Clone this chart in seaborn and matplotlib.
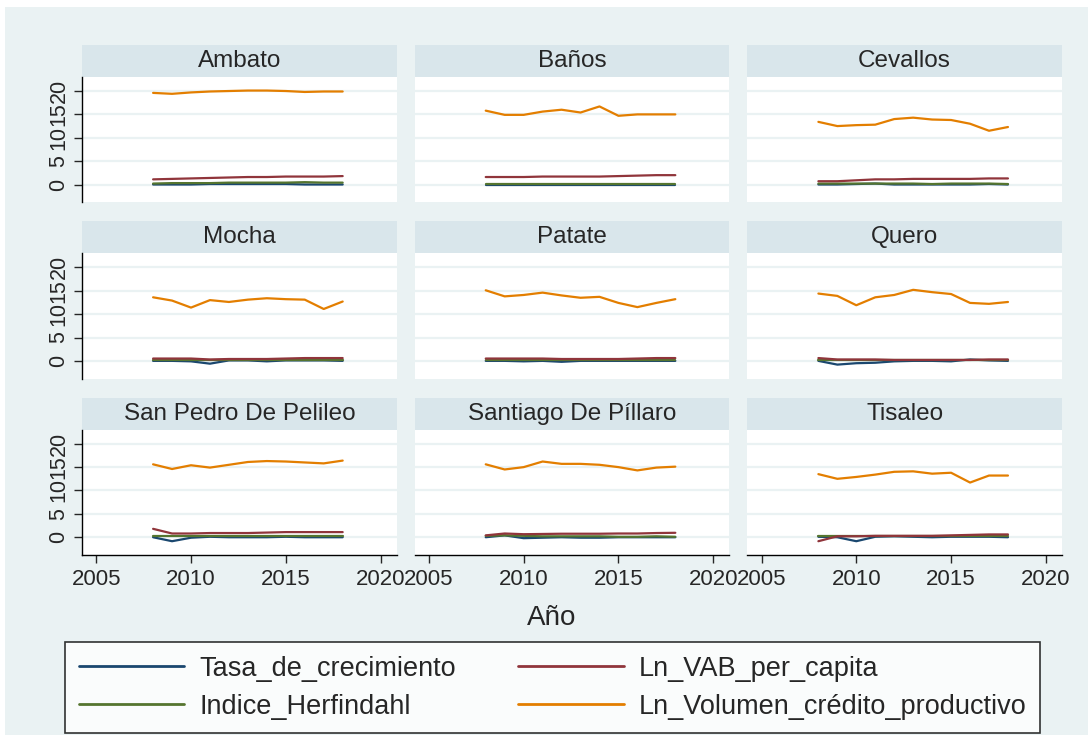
import pandas as pd
import seaborn as sns
import matplotlib.pyplot as plt
from matplotlib.patches import Rectangle
from matplotlib.lines import Line2D

# data
years = list(range(2008, 2019))
cantons = ['Ambato', 'Baños', 'Cevallos', 'Mocha', 'Patate', 'Quero',
           'San Pedro De Pelileo', 'Santiago De Píllaro', 'Tisaleo']
variables = ['Tasa_de_crecimiento', 'Indice_Herfindahl',
             'Ln_VAB_per_capita', 'Ln_Volumen_crédito_productivo']

tasa = {
    'Ambato':               [0.0, 0.0, 0.0, 0.1, 0.1, 0.1, 0.1, 0.1, 0.0, 0.0, 0.0],
    'Baños':                [0.0, 0.0, 0.0, 0.0, 0.0, 0.0, 0.0, 0.0, 0.0, 0.0, 0.0],
    'Cevallos':             [0.0, 0.0, 0.1, 0.2, 0.0, 0.0, 0.0, 0.0, 0.0, 0.1, 0.0],
    'Mocha':                [0.0, 0.0, -0.1, -0.6, 0.1, 0.1, -0.1, 0.1, 0.1, 0.1, 0.0],
    'Patate':               [0.0, 0.0, -0.1, 0.0, -0.2, 0.0, 0.0, 0.0, 0.0, 0.0, 0.0],
    'Quero':                [0.0, -0.8, -0.5, -0.4, -0.1, 0.0, 0.0, -0.1, 0.3, 0.1, 0.0],
    'San Pedro De Pelileo': [0.0, -0.85, -0.1, 0.1, 0.0, 0.0, 0.0, 0.1, 0.0, 0.0, 0.0],
    'Santiago De Píllaro':  [0.0, 0.4, -0.2, -0.1, 0.0, -0.1, -0.1, 0.0, 0.0, 0.0, 0.0],
    'Tisaleo':              [0.1, 0.0, -0.85, 0.1, 0.2, 0.1, 0.0, 0.1, 0.1, 0.1, 0.0],
}
herfindahl = {
    'Ambato':               [0.2, 0.3, 0.3, 0.3, 0.4, 0.4, 0.4, 0.4, 0.5, 0.4, 0.4],
    'Baños':                [0.2, 0.2, 0.2, 0.2, 0.2, 0.2, 0.2, 0.2, 0.2, 0.2, 0.2],
    'Cevallos':             [0.2, 0.2, 0.2, 0.2, 0.2, 0.2, 0.1, 0.2, 0.2, 0.2, 0.1],
    'Mocha':                [0.2, 0.2, 0.2, 0.2, 0.2, 0.2, 0.2, 0.2, 0.2, 0.2, 0.2],
    'Patate':               [0.2, 0.2, 0.2, 0.2, 0.2, 0.2, 0.2, 0.2, 0.2, 0.2, 0.2],
    'Quero':                [0.2, 0.2, 0.2, 0.2, 0.2, 0.2, 0.2, 0.2, 0.2, 0.2, 0.2],
    'San Pedro De Pelileo': [0.2, 0.2, 0.2, 0.2, 0.2, 0.2, 0.2, 0.2, 0.2, 0.2, 0.2],
    'Santiago De Píllaro':  [0.3, 0.4, 0.3, 0.2, 0.2, 0.2, 0.2, 0.1, 0.1, 0.2, 0.1],
    'Tisaleo':              [0.2, 0.2, 0.2, 0.2, 0.2, 0.2, 0.2, 0.2, 0.2, 0.2, 0.2],
}
ln_vab = {
    'Ambato':               [1.1, 1.2, 1.3, 1.4, 1.5, 1.6, 1.6, 1.7, 1.7, 1.7, 1.8],
    'Baños':                [1.6, 1.6, 1.6, 1.7, 1.7, 1.7, 1.7, 1.8, 1.9, 2.0, 2.0],
    'Cevallos':             [0.7, 0.7, 0.9, 1.1, 1.1, 1.2, 1.2, 1.2, 1.2, 1.3, 1.3],
    'Mocha':                [0.5, 0.5, 0.5, 0.3, 0.4, 0.4, 0.4, 0.5, 0.6, 0.6, 0.6],
    'Patate':               [0.5, 0.5, 0.5, 0.5, 0.4, 0.4, 0.4, 0.4, 0.5, 0.6, 0.6],
    'Quero':                [0.6, 0.3, 0.3, 0.3, 0.2, 0.2, 0.2, 0.2, 0.2, 0.3, 0.3],
    'San Pedro De Pelileo': [1.8, 0.8, 0.8, 0.9, 0.9, 0.9, 1.0, 1.1, 1.1, 1.1, 1.1],
    'Santiago De Píllaro':  [0.4, 0.8, 0.65, 0.7, 0.75, 0.75, 0.75, 0.8, 0.8, 0.9, 0.95],
    'Tisaleo':              [-0.85, 0.2, 0.2, 0.3, 0.3, 0.3, 0.3, 0.4, 0.5, 0.6, 0.6],
}
ln_credito = {
    'Ambato':               [19.6, 19.4, 19.7, 19.9, 20.0, 20.1, 20.1, 20.0, 19.8, 19.9, 19.9],
    'Baños':                [15.8, 14.9, 14.9, 15.6, 16.0, 15.4, 16.7, 14.7, 15.0, 15.0, 15.0],
    'Cevallos':             [13.4, 12.5, 12.7, 12.8, 14.0, 14.3, 13.9, 13.8, 13.0, 11.5, 12.3],
    'Mocha':                [13.6, 12.9, 11.4, 13.0, 12.6, 13.1, 13.4, 13.2, 13.1, 11.1, 12.7],
    'Patate':               [15.1, 13.8, 14.1, 14.6, 14.0, 13.5, 13.7, 12.4, 11.5, 12.4, 13.2],
    'Quero':                [14.4, 13.9, 11.9, 13.6, 14.1, 15.2, 14.7, 14.3, 12.4, 12.2, 12.6],
    'San Pedro De Pelileo': [15.6, 14.6, 15.4, 14.9, 15.5, 16.1, 16.3, 16.2, 16.0, 15.8, 16.4],
    'Santiago De Píllaro':  [15.6, 14.5, 15.0, 16.2, 15.7, 15.7, 15.5, 15.0, 14.3, 14.9, 15.1],
    'Tisaleo':              [13.5, 12.5, 12.9, 13.4, 14.0, 14.1, 13.6, 13.8, 11.7, 13.2, 13.2],
}

# build long dataframe
rows = []
for c in cantons:
    for var, src in zip(variables, [tasa, herfindahl, ln_vab, ln_credito]):
        for y, v in zip(years, src[c]):
            rows.append({'canton': c, 'Año': y, 'variable': var, 'value': v})
df = pd.DataFrame(rows)

bg = '#EAF2F3'
strip_col = '#D9E6EB'
palette = {'Tasa_de_crecimiento': '#1a476f', 'Indice_Herfindahl': '#55752f',
           'Ln_VAB_per_capita': '#90353b', 'Ln_Volumen_crédito_productivo': '#e37e00'}

sns.set_style('white')
plt.rcParams['font.family'] = ['Liberation Sans', 'DejaVu Sans']

g = sns.relplot(data=df, x='Año', y='value', hue='variable', col='canton',
                col_wrap=3, kind='line', palette=palette, hue_order=variables,
                legend=False, linewidth=1.6, height=2, aspect=1.5,
                facet_kws={'sharex': True, 'sharey': True})
fig = g.figure
fig.set_size_inches(10.9, 7.36)
fig.set_dpi(100)
fig.patch.set_facecolor('white')
fig.patches.append(Rectangle((5 / 1090, 1 / 736), 1083 / 1090, 728 / 736,
                             transform=fig.transFigure, facecolor=bg,
                             edgecolor='none', zorder=-10))
fig.subplots_adjust(left=82 / 1090, right=1062 / 1090, top=1 - 77 / 736,
                    bottom=1 - 555 / 736, wspace=0.057, hspace=0.408)

for i, (ax, c) in enumerate(zip(g.axes.flat, cantons)):
    r, k = divmod(i, 3)
    ax.set_facecolor('white')
    ax.set_xlim(2004.25, 2020.85)
    ax.set_ylim(-3.8, 23)
    ax.set_yticks([0, 5, 10, 15, 20])
    ax.set_xticks([2005, 2010, 2015, 2020])
    ax.grid(axis='y', color=bg, linewidth=1.6)
    ax.set_axisbelow(True)
    ax.set_title('')
    ax.set_xlabel('')
    ax.set_ylabel('')
    for s in ax.spines.values():
        s.set_visible(False)
    if k == 0:
        ax.spines['left'].set_visible(True)
        ax.spines['left'].set_color('black')
        ax.spines['left'].set_linewidth(1.0)
        ax.tick_params(axis='y', left=True, length=6, width=1, labelsize=15.5,
                       labelrotation=90, pad=3)
        for lab in ax.get_yticklabels():
            lab.set_va('center')
    else:
        ax.tick_params(axis='y', left=False, labelleft=False)
    if r == 2:
        ax.spines['bottom'].set_visible(True)
        ax.spines['bottom'].set_color('black')
        ax.spines['bottom'].set_linewidth(1.0)
        ax.tick_params(axis='x', bottom=True, length=6, width=1, labelsize=16,
                       labelbottom=True, pad=4)
    else:
        ax.tick_params(axis='x', bottom=False, labelbottom=False)
    # strip with the canton name
    h = 32 / 125
    ax.add_patch(Rectangle((0, 1.0), 1, h, transform=ax.transAxes,
                           facecolor=strip_col, edgecolor='none', clip_on=False))
    ax.text(0.5, 1.0 + h / 2, c, transform=ax.transAxes, ha='center',
            va='center', fontsize=17.5)

fig.text(552 / 1090, 1 - 618 / 736, 'Año', ha='center', va='center', fontsize=20)

handles = [Line2D([], [], color=palette[v], linewidth=2) for v in variables]
leg = fig.legend(handles, variables, loc='upper center', ncol=2,
                 bbox_to_anchor=(552.5 / 1090, 1 - 642 / 736),
                 fontsize=19.5, frameon=True, fancybox=False, borderaxespad=0,
                 handlelength=3.9, handletextpad=0.55, labelspacing=0.45,
                 columnspacing=2.3, borderpad=0.5)
leg.get_frame().set_edgecolor('black')
leg.get_frame().set_linewidth(1.2)

fig.savefig('out.png', dpi=100, facecolor=fig.get_facecolor())
